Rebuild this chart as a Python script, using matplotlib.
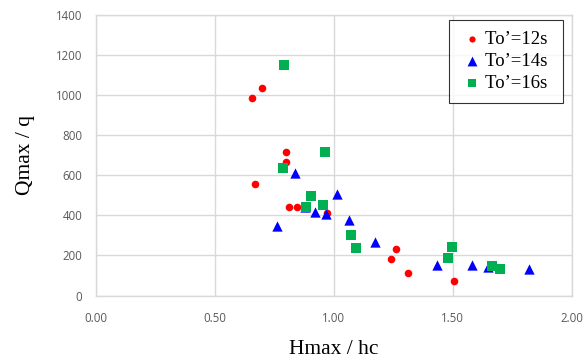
import matplotlib.pyplot as plt

# To'=12s
x12 = [0.697, 0.657, 0.799, 0.798, 0.667, 0.812, 0.845, 0.970, 1.260, 1.239, 1.312, 1.507]
y12 = [1036, 984, 714, 664, 554, 444, 444, 411, 232, 181, 112, 71]
# To'=14s
x14 = [0.838, 1.015, 0.877, 0.922, 0.967, 1.064, 0.760, 1.172, 1.433, 1.580, 1.650, 1.822]
y14 = [611, 507, 444, 416, 407, 377, 347, 267, 151, 154, 144, 132]
# To'=16s
x16 = [0.792, 0.964, 0.785, 0.903, 0.882, 0.953, 1.074, 1.093, 1.496, 1.481, 1.664, 1.700]
y16 = [1149, 717, 634, 499, 444, 454, 304, 239, 244, 189, 147, 132]

xticks = [0.0, 0.5, 1.0, 1.5, 2.0]
yticks = [0, 200, 400, 600, 800, 1000, 1200, 1400]

fig = plt.figure(figsize=(5.83, 3.62), dpi=100)
ax = fig.add_axes([0.1647, 0.1837, 0.8158, 0.7749])

grid_c = "#d9d9d9"
ax.scatter(x12, y12, s=30, marker="o", color="#ff0000", label="To\u2019=12s ", zorder=3, linewidths=0)
ax.scatter(x14, y14, s=55, marker="^", color="#0000ff", label="To\u2019=14s ", zorder=3, linewidths=0)
ax.scatter(x16, y16, s=45, marker="s", color="#00b050", label="To\u2019=16s ", zorder=3, linewidths=0)

ax.set_xlim(0, 2)
ax.set_ylim(0, 1400)
ax.set_xticks(xticks)
ax.set_yticks(yticks)
ax.set_xticklabels([f"{v:.2f}" for v in xticks])
ax.grid(True, color=grid_c, linewidth=1.0)
ax.set_axisbelow(True)
for s in ax.spines.values():
    s.set_color(grid_c)
    s.set_linewidth(1.0)
ax.tick_params(length=0, labelsize=8.3, labelcolor="#595959")
ax.tick_params(axis="x", pad=12)
ax.tick_params(axis="y", pad=10)
for lab in ax.get_xticklabels() + ax.get_yticklabels():
    lab.set_family("Open Sans")

ax.set_xlabel("Hmax / hc", family="Liberation Serif", fontsize=15.5, labelpad=11)
ax.set_ylabel("Qmax / q", family="Liberation Serif", fontsize=15.5, labelpad=15)

leg = ax.legend(loc="upper right", bbox_to_anchor=(0.982, 0.982), frameon=True, fancybox=False,
                prop={"family": "Liberation Serif", "size": 13.5}, handletextpad=0.1,
                borderpad=0.6, labelspacing=0.25, handlelength=1.2, borderaxespad=0)
leg.get_frame().set_edgecolor("#000000")
leg.get_frame().set_linewidth(0.8)
for h, sz in zip(leg.legend_handles, [20, 50, 40]):
    h.set_sizes([sz])

fig.savefig("out.png", dpi=100)
